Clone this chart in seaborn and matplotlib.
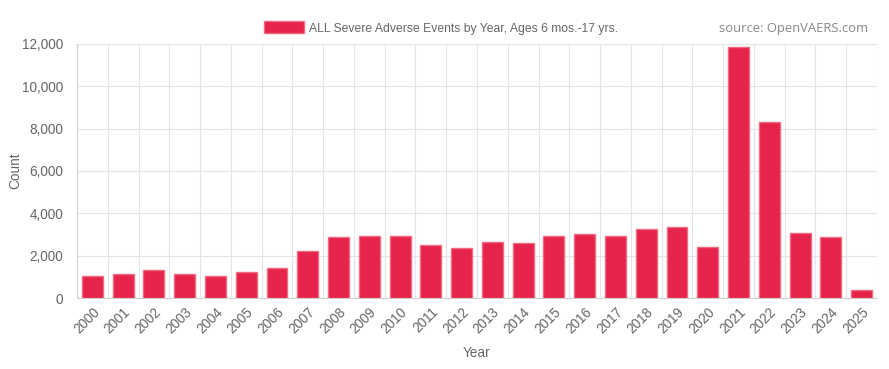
import pandas as pd
import seaborn as sns
import matplotlib.pyplot as plt
from matplotlib.ticker import FuncFormatter, FixedLocator
from matplotlib.patches import Patch

# data
years = [str(y) for y in range(2000, 2026)]
counts = [1030, 1150, 1300, 1150, 1060, 1240, 1420, 2240, 2880, 2940, 2940, 2520, 2360,
          2660, 2610, 2910, 3000, 2920, 3250, 3370, 2400, 11860, 8330, 3080, 2870, 400]

y_ticks = [0, 2000, 4000, 6000, 8000, 10000, 12000]
legend_label = "ALL Severe Adverse Events by Year, Ages 6 mos.-17 yrs."
source_text = "source: OpenVAERS.com"

df = pd.DataFrame({"Year": years, "Count": counts})

sns.set_style("white")
plt.rcParams["font.family"] = ["Liberation Sans", "DejaVu Sans"]

fig = plt.figure(figsize=(8.89, 3.69), dpi=100)
ax = fig.add_axes([0.0866, 0.1924, 0.8999, 0.6884])

bar_fill = "#e6234a"
bar_edge = "#f26a82"
sns.barplot(data=df, x="Year", y="Count", color=bar_fill, width=0.68,
            edgecolor=bar_edge, linewidth=1, saturation=1, ax=ax, zorder=3)

ax.set_xlim(-0.5, len(years) - 0.5)
ax.set_ylim(0, 12000)
ax.set_yticks(y_ticks)
ax.yaxis.set_major_formatter(FuncFormatter(lambda v, p: f"{int(v):,}"))

# grid lines between categories, like the original
ax.xaxis.set_minor_locator(FixedLocator([i - 0.5 for i in range(len(years) + 1)]))
ax.grid(which="minor", axis="x", color="#e4e4e4", linewidth=0.8, zorder=0)
ax.grid(which="major", axis="y", color="#e4e4e4", linewidth=0.8, zorder=0)
ax.tick_params(axis="x", which="major", length=0, pad=5)
ax.tick_params(axis="x", which="minor", length=7, color="#e4e4e4", width=0.8)
ax.tick_params(axis="y", length=7, color="#e4e4e4", width=0.8, pad=3)
ax.tick_params(labelsize=9.8, labelcolor="#666666")

for lbl in ax.get_xticklabels():
    lbl.set_rotation(45)
    lbl.set_ha("right")
    lbl.set_rotation_mode("anchor")

for s in ["top", "right"]:
    ax.spines[s].set_visible(False)
for s in ["left", "bottom"]:
    ax.spines[s].set_color("#d0d0d0")
    ax.spines[s].set_linewidth(0.8)

ax.set_xlabel("Year", fontsize=9.8, color="#666666")
ax.xaxis.set_label_coords(0.5, -0.19)
ax.set_ylabel("Count", fontsize=9.8, color="#666666")
ax.yaxis.set_label_coords(-0.069, 0.5)

handle = Patch(facecolor=bar_fill, edgecolor=bar_edge, linewidth=1)
fig.legend([handle], [legend_label], loc="center", bbox_to_anchor=(0.496, 0.924),
           frameon=False, fontsize=8.7, labelcolor="#666666", handlelength=3.3,
           handleheight=1.15, handletextpad=0.4)

fig.text(0.977, 0.924, source_text, ha="right", va="center", fontsize=9.4,
         color="#888888", family="Open Sans")

fig.savefig("out.png", dpi=100)
